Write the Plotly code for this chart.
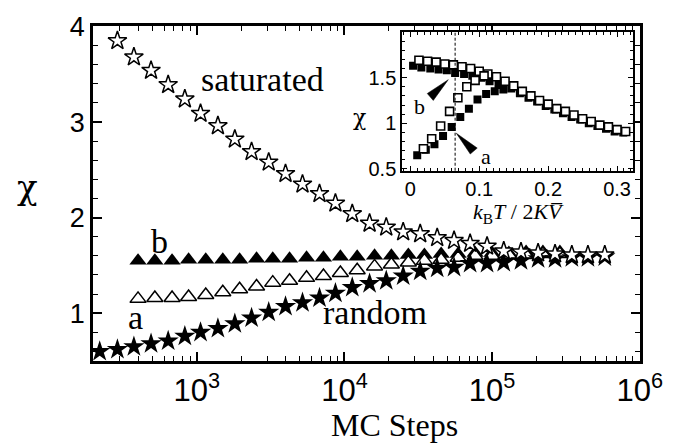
import plotly.graph_objects as go

# ---------------- main panel data ----------------
steps_random = [220, 290, 375, 490, 640, 830, 1060, 1390, 1810, 2350, 3070, 3990, 5200, 6780,
                8690, 11300, 14800, 19200, 25000, 32600, 42500, 55300, 71000, 92500, 120000,
                157000, 205000, 267000, 347000, 446000, 580000]
chi_random = [0.60, 0.62, 0.65, 0.68, 0.71, 0.76, 0.80, 0.84, 0.89, 0.95, 1.01, 1.07, 1.11, 1.16,
              1.21, 1.27, 1.31, 1.34, 1.39, 1.44, 1.47, 1.48, 1.52, 1.52, 1.53, 1.55, 1.57, 1.57,
              1.58, 1.58, 1.59]

steps_saturated = [290, 375, 490, 640, 830, 1060, 1390, 1810, 2350, 3070, 3990, 5200, 6780,
                   8690, 11300, 14800, 19200, 25000, 32600, 42500, 55300, 71000, 92500, 120000,
                   157000, 205000, 267000, 347000, 446000, 580000]
chi_saturated = [3.85, 3.68, 3.54, 3.39, 3.24, 3.09, 2.96, 2.82, 2.69, 2.58, 2.46, 2.35, 2.25,
                 2.15, 2.04, 1.94, 1.90, 1.85, 1.83, 1.79, 1.76, 1.73, 1.70, 1.65, 1.64, 1.63,
                 1.62, 1.61, 1.61, 1.61]

steps_tri = [400, 520, 680, 880, 1150, 1500, 1950, 2540, 3270, 4250, 5540, 7210, 9390, 12200,
             16000, 20800, 27100, 34800, 45200, 58900, 76700, 100000, 130000, 170000, 221000, 288000]
chi_b = [1.55, 1.55, 1.55, 1.56, 1.56, 1.56, 1.56, 1.57, 1.57, 1.57, 1.58, 1.58, 1.59, 1.59,
         1.60, 1.60, 1.61, 1.61, 1.62, 1.62, 1.63, 1.63, 1.63, 1.64, 1.64, 1.64]
chi_a = [1.15, 1.16, 1.16, 1.17, 1.19, 1.22, 1.25, 1.28, 1.32, 1.34, 1.37, 1.39, 1.42, 1.45,
         1.49, 1.51, 1.53, 1.55, 1.56, 1.58, 1.60, 1.60, 1.61, 1.61, 1.62, 1.62]

x_ticks = [1e3, 1e4, 1e5, 1e6]
x_tick_labels = ["10<sup>3</sup>", "10<sup>4</sup>", "10<sup>5</sup>", "10<sup>6</sup>"]
y_ticks = [1, 2, 3, 4]

# ---------------- inset data ----------------
T_open_hi = [0.0125, 0.025, 0.0375, 0.05, 0.0625, 0.075, 0.0875, 0.1, 0.1125, 0.125, 0.1375,
             0.15, 0.1625, 0.175, 0.1875, 0.2, 0.2125, 0.225, 0.2375, 0.25, 0.2625, 0.275,
             0.2875, 0.3, 0.3125]
chi_open_hi = [1.69, 1.68, 1.67, 1.65, 1.64, 1.62, 1.60, 1.57, 1.54, 1.51, 1.46, 1.41, 1.35,
               1.30, 1.25, 1.21, 1.16, 1.13, 1.09, 1.05, 1.02, 0.98, 0.96, 0.93, 0.91]
T_open_lo = [0.019, 0.031, 0.044, 0.057, 0.069, 0.082, 0.094, 0.107]
chi_open_lo = [0.72, 0.83, 0.97, 1.13, 1.28, 1.40, 1.47, 1.52]

T_fill_hi = [0.004, 0.016, 0.029, 0.041, 0.053, 0.065, 0.078, 0.090, 0.103, 0.115, 0.128,
             0.1465, 0.159, 0.1715, 0.184, 0.1965, 0.209, 0.2215, 0.234, 0.2465, 0.259,
             0.2715, 0.284, 0.2965, 0.309]
chi_fill_hi = [1.63, 1.61, 1.60, 1.59, 1.58, 1.55, 1.54, 1.52, 1.50, 1.46, 1.42,
               1.38, 1.33, 1.28, 1.24, 1.19, 1.15, 1.11, 1.07, 1.04, 1.00, 0.97, 0.94,
               0.91, 0.90]
T_fill_lo = [0.010, 0.0225, 0.035, 0.0475, 0.06, 0.0725, 0.085, 0.0975, 0.11, 0.1225, 0.135]
chi_fill_lo = [0.65, 0.71, 0.77, 0.86, 0.96, 1.07, 1.16, 1.26, 1.32, 1.35, 1.37]

inset_x_ticks = [0, 0.1, 0.2, 0.3]
inset_x_labels = ["0", "0.1", "0.2", "0.3"]
inset_y_ticks = [0.5, 1, 1.5]
inset_y_labels = ["0.5", "1", "1.5"]
T_marker = 0.065

SERIF = "Liberation Serif"
SANS = "Liberation Sans"

fig = go.Figure()

open_line = dict(color="black", width=1.5)
fig.add_trace(go.Scatter(x=steps_tri, y=chi_b, mode="markers",
                         marker=dict(symbol="triangle-up", size=15, color="black"),
                         showlegend=False))
fig.add_trace(go.Scatter(x=steps_tri, y=chi_a, mode="markers",
                         marker=dict(symbol="triangle-up", size=14, color="white", line=open_line),
                         showlegend=False))
fig.add_trace(go.Scatter(x=steps_random, y=chi_random, mode="markers",
                         marker=dict(symbol="star", size=16, color="black"),
                         showlegend=False))
fig.add_trace(go.Scatter(x=steps_saturated, y=chi_saturated, mode="markers",
                         marker=dict(symbol="star", size=14, color="white", line=open_line),
                         showlegend=False))

# inset
for T, c in [(T_fill_hi, chi_fill_hi), (T_fill_lo, chi_fill_lo)]:
    fig.add_trace(go.Scatter(x=T, y=c, mode="markers", xaxis="x2", yaxis="y2",
                             marker=dict(symbol="square", size=8, color="black"),
                             showlegend=False))
for T, c in [(T_open_hi, chi_open_hi), (T_open_lo, chi_open_lo)]:
    fig.add_trace(go.Scatter(x=T, y=c, mode="markers", xaxis="x2", yaxis="y2",
                             marker=dict(symbol="square", size=8, color="white",
                                         line=dict(color="black", width=1.6)),
                             showlegend=False))

axis_common = dict(showline=True, linecolor="black", mirror="ticks", ticks="inside",
                   tickcolor="black", showgrid=False, zeroline=False)

fig.update_layout(
    width=675, height=445,
    margin=dict(l=93, r=35, t=23, b=84),
    paper_bgcolor="white", plot_bgcolor="white",
    xaxis=dict(**axis_common, type="log", range=[2.297, 6.002], linewidth=2.5,
               tickvals=x_ticks, ticktext=x_tick_labels, ticklen=9, tickwidth=1.5,
               tickfont=dict(family=SANS, size=31, color="black"),
               minor=dict(ticks="inside", ticklen=5, tickwidth=1, tickcolor="black",
                          dtick="D1", showgrid=False)),
    yaxis=dict(**axis_common, range=[0.5, 4.005], linewidth=2.5,
               tickvals=y_ticks, ticklen=9, tickwidth=1.5,
               tickfont=dict(family=SANS, size=27, color="black"),
               minor=dict(ticks="inside", ticklen=5, tickwidth=1, tickcolor="black",
                          dtick=0.2, showgrid=False)),
    xaxis2=dict(**axis_common, domain=[0.565, 0.987], anchor="y2", range=[-0.012, 0.323],
                linewidth=1.5, tickvals=inset_x_ticks, ticktext=inset_x_labels,
                ticklen=5, tickwidth=1,
                tickfont=dict(family=SANS, size=20, color="black"),
                minor=dict(ticks="inside", ticklen=3, tickwidth=1, tickcolor="black",
                           dtick=0.01, showgrid=False)),
    yaxis2=dict(**axis_common, domain=[0.568, 0.982], anchor="x2", range=[0.48, 2.0],
                linewidth=1.5, tickvals=inset_y_ticks, ticktext=inset_y_labels,
                ticklen=5, tickwidth=1,
                tickfont=dict(family=SANS, size=20, color="black"),
                minor=dict(ticks="inside", ticklen=3, tickwidth=1, tickcolor="black",
                           dtick=0.1, showgrid=False)),
)

def label(text, x, y, size, family=SERIF):
    fig.add_annotation(text=text, x=x, y=y, xref="paper", yref="paper",
                       showarrow=False, xanchor="center", yanchor="middle",
                       font=dict(family=family, size=size, color="black"))

label("saturated", 0.309, 0.840, 34)
label("random", 0.516, 0.145, 34)
label("b", 0.122, 0.358, 34)
label("a", 0.077, 0.130, 34)
label("MC Steps", 0.552, -0.192, 32)
label("χ", -0.119, 0.518, 34, "DejaVu Serif")
# inset labels
label("χ", 0.488, 0.728, 22, "DejaVu Serif")
label("b", 0.596, 0.760, 22)
label("a", 0.718, 0.609, 22)
label("<i>k</i><sub>B</sub><i>T</i> / 2<i>K</i><i>V\u0305</i>", 0.777, 0.441, 22)

# dashed marker line and pointer wedges in inset
fig.add_shape(type="line", xref="x2", yref="y2 domain", x0=T_marker, x1=T_marker, y0=0, y1=1,
              line=dict(color="black", width=1, dash="3px,2px"))
fig.add_shape(type="path", xref="x2", yref="y2",
              path="M 0.0551 1.478 L 0.0246 1.326 L 0.0333 1.25 Z",
              fillcolor="black", line=dict(color="black", width=0.5))
fig.add_shape(type="path", xref="x2", yref="y2",
              path="M 0.0667 0.891 L 0.087 0.663 L 0.0971 0.728 Z",
              fillcolor="black", line=dict(color="black", width=0.5))

fig.write_html("out.html")
